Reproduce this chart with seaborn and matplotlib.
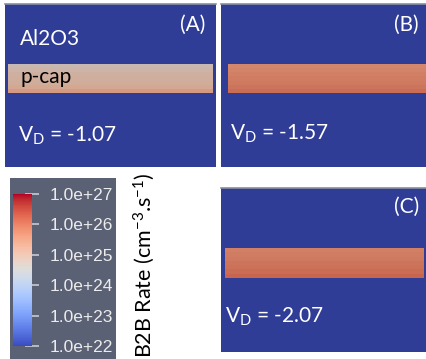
import numpy as np
import matplotlib
matplotlib.use("Agg")
import matplotlib.pyplot as plt
import seaborn as sns
from matplotlib.colors import ListedColormap, Normalize
from matplotlib.cm import ScalarMappable

sns.set_theme(style="white")
plt.rcParams["font.family"] = ["Lato", "DejaVu Sans"]

# log10 of the band-to-band generation rate across the p-cap layer (top -> bottom)
rate_a = [24.7, 24.85, 24.95, 25.0, 25.05, 25.15, 25.4]
rate_b = [25.7, 25.75, 25.8, 25.85, 25.9, 25.95, 26.05]
rate_c = [25.8, 25.85, 25.9, 25.95, 26.0, 26.05, 26.15]

panel_tags = ["(A)", "(B)", "(C)"]
drain_bias = ["-1.07", "-1.57", "-2.07"]

cbar_ticks = [22, 23, 24, 25, 26, 27]
cbar_ticklabels = ["1.0e+22", "1.0e+23", "1.0e+24", "1.0e+25", "1.0e+26", "1.0e+27"]
vmin, vmax = 22, 27

W, H = 426, 359
fig = plt.figure(figsize=(W / 100, H / 100), dpi=100)
fig.patch.set_facecolor("white")


def box(x0, y0, x1, y1):
    """Pixel box (top-left origin) to figure-fraction rect."""
    return [x0 / W, 1 - y1 / H, (x1 - x0) / W, (y1 - y0) / H]


def fx(x):
    return x / W


def fy(y):
    return 1 - y / H


oxide = "#2f3d96"
base = plt.get_cmap("coolwarm")
# scene lighting dims the rendered surfaces relative to the legend bar
lit = ListedColormap(base(np.linspace(0, 1, 256))[:, :3] * 0.86)

panels = [
    (box(5, 4, 216, 167), box(8, 64, 213, 93), rate_a),
    (box(221, 4, 426, 167), box(228, 64, 426, 93), rate_b),
    (box(221, 188, 426, 352), box(225, 248, 424, 278), rate_c),
]

for frame_rect, strip_rect, profile in panels:
    ax = fig.add_axes(frame_rect)
    ax.set_facecolor(oxide)
    ax.set_xticks([])
    ax.set_yticks([])
    for s in ax.spines.values():
        s.set_visible(False)
    ax.spines["top"].set_visible(True)
    ax.spines["top"].set_color("#8a8f9c")
    ax.spines["top"].set_linewidth(1.2)

    sax = fig.add_axes(strip_rect)
    sns.heatmap(np.array(profile)[:, None], ax=sax, cmap=lit, vmin=vmin, vmax=vmax,
                cbar=False, xticklabels=False, yticklabels=False)
    sax.set_xlabel("")
    sax.set_ylabel("")

txt = dict(color="white", fontsize=15, family=["Lato", "DejaVu Sans"])
fig.text(fx(20), fy(45), "Al2O3", ha="left", va="baseline", **txt)
fig.text(fx(21), fy(83), "p-cap", ha="left", va="baseline",
         color="black", fontsize=15, family=["Lato", "DejaVu Sans"])

fig.text(fx(205), fy(31), panel_tags[0], ha="right", va="baseline", **txt)
fig.text(fx(419), fy(31), panel_tags[1], ha="right", va="baseline", **txt)
fig.text(fx(419), fy(213), panel_tags[2], ha="right", va="baseline", **txt)

for (x, y), v in zip([(18, 142), (230, 140), (225, 323)], drain_bias):
    fig.text(fx(x), fy(y), r"$\mathregular{V_D}$ = " + v, ha="left", va="baseline", **txt)

# legend backdrop and color bar
bg = fig.add_axes(box(10, 178, 116, 359))
bg.set_facecolor("#5b6174")
bg.set_xticks([])
bg.set_yticks([])
for s in bg.spines.values():
    s.set_visible(False)

cax = fig.add_axes(box(13, 194, 32, 346))
cb = fig.colorbar(ScalarMappable(norm=Normalize(vmin, vmax), cmap=base), cax=cax)
cb.outline.set_visible(False)
cb.set_ticks(cbar_ticks)
cb.set_ticklabels(cbar_ticklabels)
cax.tick_params(axis="y", direction="inout", length=10, width=1.2, color="#c8cad0",
                pad=8, labelsize=12.5, labelcolor="#ececec")
for lab in cax.get_yticklabels():
    lab.set_family(["Liberation Sans", "DejaVu Sans"])

fig.text(fx(144), fy(265), r"B2B Rate (cm$\mathregular{^{-3}}$.s$\mathregular{^{-1}}$)",
         rotation=90, ha="center", va="center", color="black", fontsize=15.5,
         family=["Lato", "DejaVu Sans"])

fig.savefig("out.png", dpi=100, facecolor="white")
